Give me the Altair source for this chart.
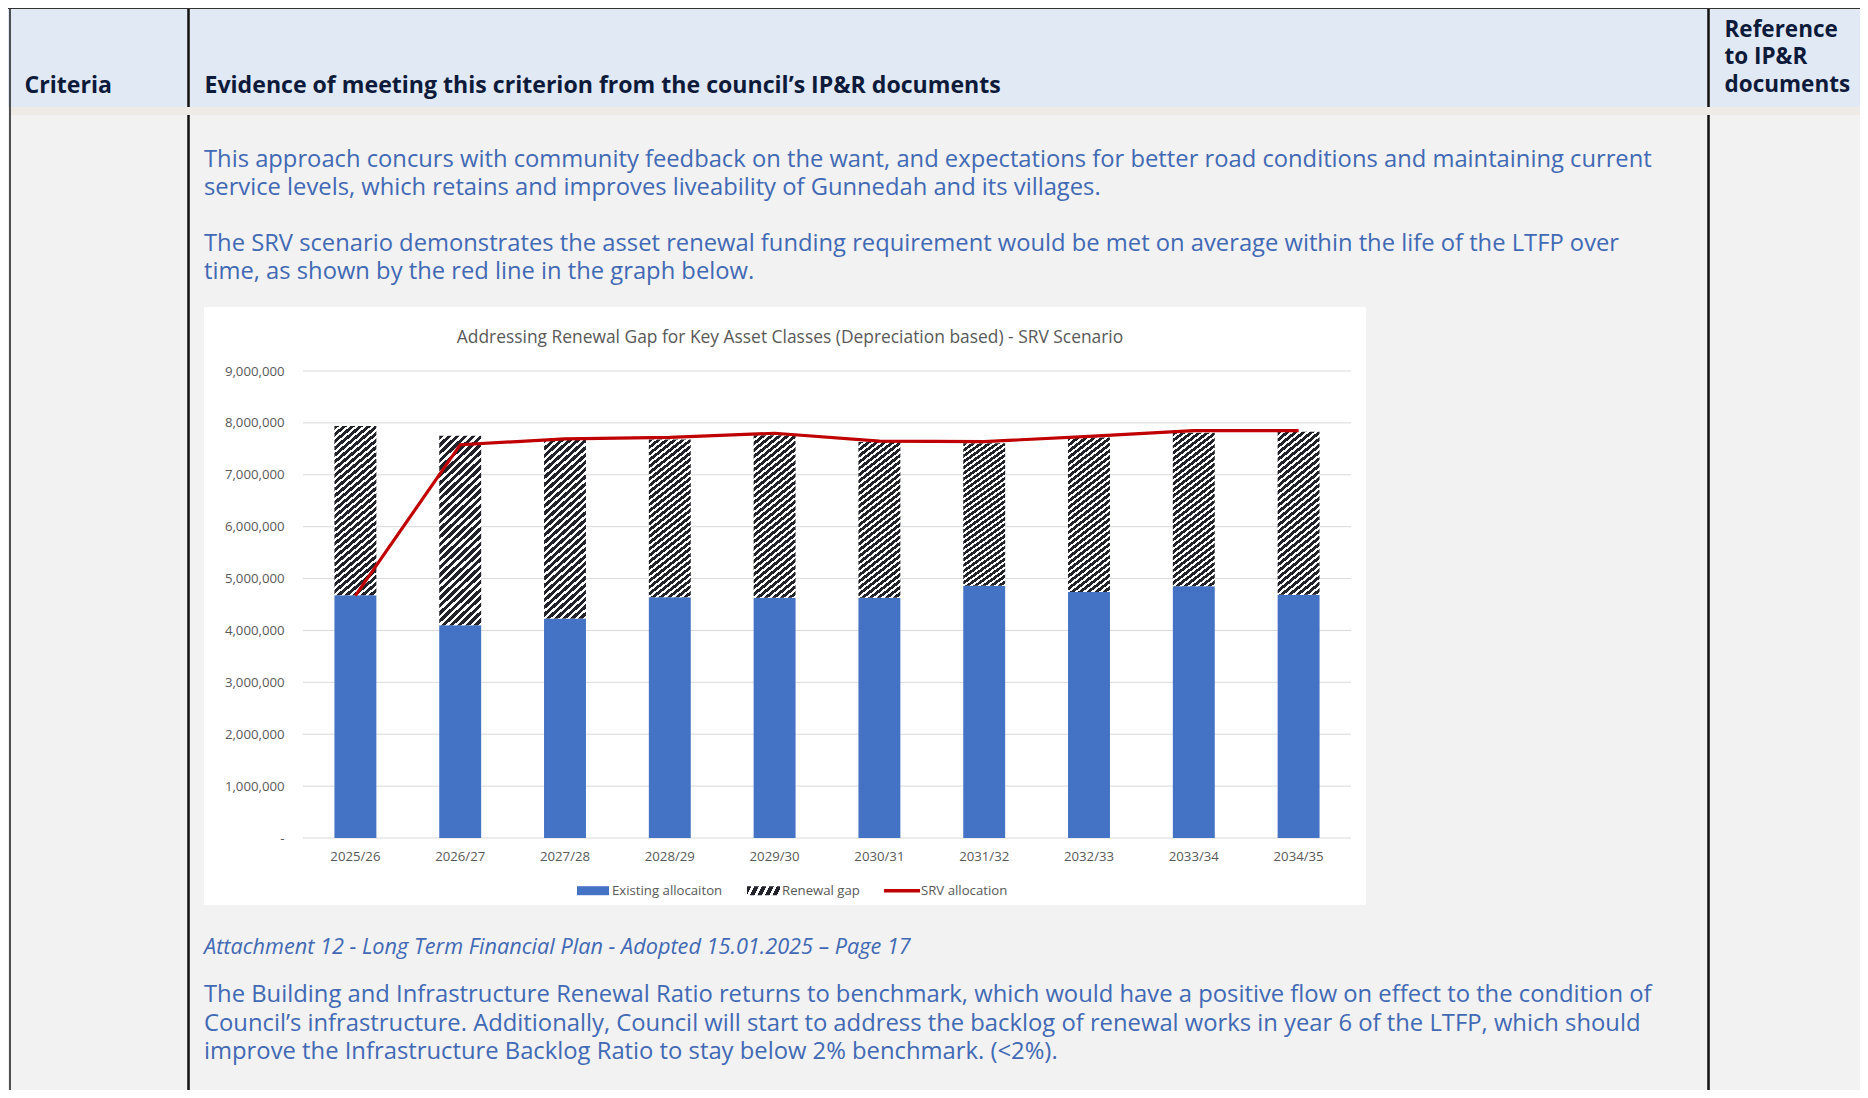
import altair as alt
import pandas as pd

# ---------------- data ----------------
years = ["2025/26", "2026/27", "2027/28", "2028/29", "2029/30",
         "2030/31", "2031/32", "2032/33", "2033/34", "2034/35"]
existing = [4680000, 4100000, 4230000, 4640000, 4630000,
            4630000, 4860000, 4740000, 4850000, 4690000]
total_required = [7940000, 7750000, 7680000, 7680000, 7760000,
                  7630000, 7610000, 7720000, 7810000, 7830000]
srv = [4670000, 7580000, 7690000, 7720000, 7800000,
       7650000, 7640000, 7740000, 7850000, 7850000]
series_names = ["Existing allocaiton", "Renewal gap", "SRV allocation"]
y_ticks = [0, 1000000, 2000000, 3000000, 4000000, 5000000,
           6000000, 7000000, 8000000, 9000000]

chart_title = "Addressing Renewal Gap for Key Asset Classes (Depreciation based) - SRV Scenario"
header_criteria = "Criteria"
header_evidence = "Evidence of meeting this criterion from the council\u2019s IP&R documents"
header_reference = ["Reference", "to IP&R", "documents"]
para1 = ["This approach concurs with community feedback on the want, and expectations for better road conditions and maintaining current",
         "service levels, which retains and improves liveability of Gunnedah and its villages."]
para2 = ["The SRV scenario demonstrates the asset renewal funding requirement would be met on average within the life of the LTFP over",
         "time, as shown by the red line in the graph below."]
caption = "Attachment 12 - Long Term Financial Plan - Adopted 15.01.2025 \u2013 Page 17"
para3 = ["The Building and Infrastructure Renewal Ratio returns to benchmark, which would have a positive flow on effect to the condition of",
         "Council\u2019s infrastructure. Additionally, Council will start to address the backlog of renewal works in year 6 of the LTFP, which should",
         "improve the Infrastructure Backlog Ratio to stay below 2% benchmark. (<2%)."]

df = pd.DataFrame({"year": years, "existing": existing, "total": total_required, "srv": srv})
grid_df = pd.DataFrame({"v": y_ticks})

# ---------------- layout constants (page pixels) ----------------
OX, OY = 303, 371          # plot origin on the page
W, H = 1048, 467           # plot area


def px(x):
    return x - OX


def py(y):
    return y - OY


BLUE = "#4472c4"
RED = "#c00000"
GRID = "#d9d9d9"
AXT = "#595959"
DOCBLUE = "#4169b4"
NAVY = "#0d1a3a"
DOCFONT = "Open Sans"
CHFONT = "Open Sans"


def stripes(n, duty, x2, y2):
    stops = []
    for i in range(n):
        a = i / n
        b = (i + duty) / n
        c = (i + 1) / n
        stops += [{"offset": a, "color": "#22222a"}, {"offset": b, "color": "#22222a"},
                  {"offset": b, "color": "#ffffff"}, {"offset": c, "color": "#ffffff"}]
    return {"gradient": "linear", "x1": 0, "y1": 0, "x2": x2, "y2": y2, "stops": stops}


# bar hatch: rising diagonal stripes on a ~42 x 170 px bar
a = 0.21
k = (a + 1) / (a * a + 1)
hatch = stripes(30, 0.58, a * k, k)
# legend swatch hatch
a2 = 7.0
k2 = (a2 + 1) / (a2 * a2 + 1)
hatch_leg = stripes(5, 0.6, a2 * k2, k2)

one = alt.Data(values=[{"a": 1}])


def rect(x0, x1, y0, y1, color):
    return alt.Chart(one).mark_rect(color=color).encode(
        x=alt.value(px(x0)), x2=alt.value(px(x1)), y=alt.value(py(y0)), y2=alt.value(py(y1)))


def vline(x, y0, y1, color, w):
    return alt.Chart(one).mark_rule(color=color, strokeWidth=w).encode(
        x=alt.value(px(x)), y=alt.value(py(y0)), y2=alt.value(py(y1)))


def hline(x0, x1, y, color, w):
    return alt.Chart(one).mark_rule(color=color, strokeWidth=w).encode(
        x=alt.value(px(x0)), x2=alt.value(px(x1)), y=alt.value(py(y)))


def text(t, x, y, size, color, font, weight="normal", style="normal", align="left",
         baseline="alphabetic", lh=28):
    return alt.Chart(one).mark_text(
        text=t, align=align, baseline=baseline, fontSize=size, color=color, font=font,
        fontWeight=weight, fontStyle=style, lineHeight=lh).encode(
        x=alt.value(px(x)), y=alt.value(py(y)))


# ---------------- document background ----------------
layers = []
layers.append(rect(8, 1862, 8, 107, "#e1e9f4"))
layers.append(vline(10, 8, 1090, "#1a1a1a", 1.5))
layers.append(vline(188.5, 8, 1090, "#111111", 2.5))
layers.append(vline(1708.5, 8, 1090, "#111111", 2.5))
layers.append(rect(11, 1862, 107, 115, "#eeebe7"))
layers.append(hline(8, 1862, 8.5, "#333333", 1.2))
layers.append(rect(204, 1366, 307, 905, "#ffffff"))

# ---------------- chart ----------------
x_enc = alt.X("year:N", sort=years,
              scale=alt.Scale(paddingInner=0.6, paddingOuter=0.3),
              axis=alt.Axis(title=None, domain=False, ticks=False, grid=False, labelAngle=0,
                            labelPadding=12, labelFontSize=13.2, labelColor=AXT,
                            labelFont=CHFONT, zindex=1))
y_scale = alt.Scale(domain=[0, 9000000], nice=False)

grid = alt.Chart(grid_df).mark_rule(color=GRID, strokeWidth=1).encode(
    y=alt.Y("v:Q", scale=y_scale, axis=alt.Axis(
        title=None, values=y_ticks, domain=False, ticks=False, grid=False,
        labelPadding=19, labelFontSize=13.2, labelColor=AXT, labelFont=CHFONT, zindex=1,
        labelExpr="datum.value == 0 ? '-' : format(datum.value, ',')")))

bars_exist = alt.Chart(df).mark_bar(color=BLUE).encode(
    x=x_enc, y=alt.Y("existing:Q", scale=y_scale))
bars_gap = alt.Chart(df).mark_bar(color=hatch).encode(
    x=x_enc, y=alt.Y("existing:Q", scale=y_scale), y2="total:Q")
line = alt.Chart(df).mark_line(color=RED, strokeWidth=3.2).encode(
    x=x_enc, y=alt.Y("srv:Q", scale=y_scale))

layers += [grid, bars_exist, bars_gap, line]

# chart title
layers.append(text(chart_title, 790, 343, 17.4, AXT, CHFONT, align="center"))

# legend
LY = 890.7
layers.append(rect(577, 609, LY - 4.5, LY + 4.5, BLUE))
layers.append(text(series_names[0], 612, LY, 13.2, AXT, CHFONT, baseline="middle"))
layers.append(rect(747, 780, LY - 4.5, LY + 4.5, hatch_leg))
layers.append(text(series_names[1], 782, LY, 13.2, AXT, CHFONT, baseline="middle"))
layers.append(hline(884, 920, LY, RED, 3.5))
layers.append(text(series_names[2], 921, LY, 13.2, AXT, CHFONT, baseline="middle"))

# ---------------- document text ----------------
layers.append(text(header_criteria, 24.5, 92.7, 23.1, NAVY, DOCFONT, weight="bold"))
layers.append(text(header_evidence, 204.5, 92.7, 23.1, NAVY, DOCFONT, weight="bold"))
layers.append(text(header_reference, 1724.5, 36.7, 22.5, NAVY, DOCFONT, weight="bold", lh=27.5))
layers.append(text(para1, 204, 166.5, 23.75, DOCBLUE, DOCFONT, lh=28))
layers.append(text(para2, 204, 250.5, 23.75, DOCBLUE, DOCFONT, lh=28))
layers.append(text(caption, 204, 954, 21.7, DOCBLUE, DOCFONT, style="italic"))
layers.append(text(para3, 204, 1002, 23.8, DOCBLUE, DOCFONT, lh=28.5))

chart = alt.layer(*layers).properties(
    width=W, height=H,
    padding={"left": OX - 8, "top": OY - 8, "right": 1852 - (OX - 8) - W, "bottom": 1082 - (OY - 8) - H},
    autosize=alt.AutoSizeParams(type="none"),
    background="#f2f2f2",
).configure_view(stroke=None)

chart.save("out.html", embed_options={"renderer": "svg", "actions": False})
